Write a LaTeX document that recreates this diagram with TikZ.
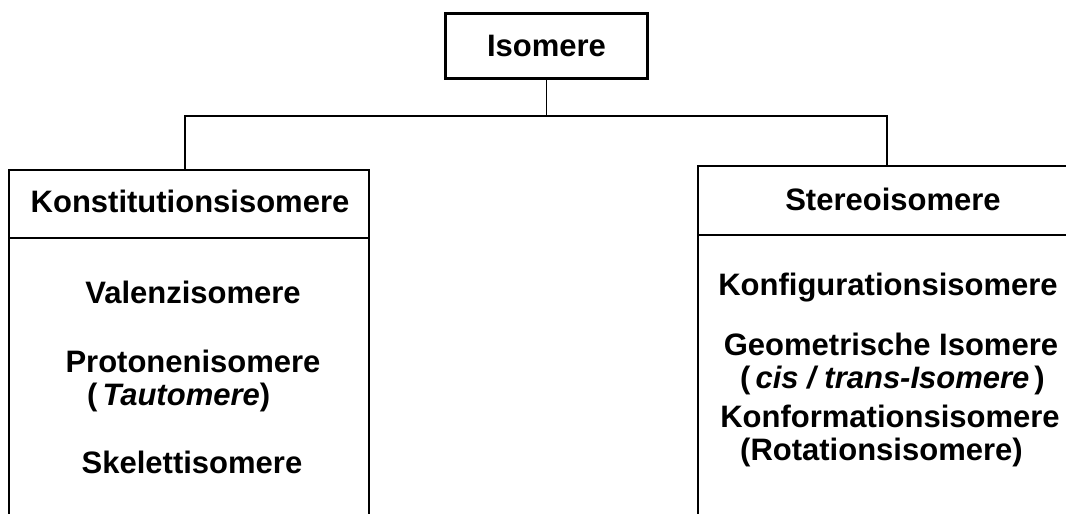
\documentclass[tikz,border=0pt]{standalone}
\usepackage{fontspec}
\setmainfont{Liberation Sans}
\begin{document}
\begin{tikzpicture}[x=1pt,y=-1pt,
  thin line/.style={line width=1.6pt},
  rootbox/.style={draw,line width=3pt,rectangle,inner sep=0pt,
    minimum width=202pt,minimum height=65pt},
  headbox/.style={draw,thin line,rectangle,inner sep=0pt,outer sep=0pt},
  lbl/.style={inner sep=0pt,font=\fontsize{31}{37}\selectfont\bfseries}]
\clip (0,0) rectangle (1066,514);
\fill[white] (0,0) rectangle (1066,514);

% root
\node[rootbox,lbl] (iso) at (546.5,46) {Isomere};

% class headers
\node[headbox,minimum width=360pt,minimum height=68pt] (kh) at (189,204) {};
\node[headbox,minimum width=420pt,minimum height=69pt] (sh) at (908,200.5) {};

% open columns below the headers
\draw[thin line] (kh.south west) -- ++(0,300);
\draw[thin line] (kh.south east) -- ++(0,300);
\draw[thin line] (sh.south west) -- ++(0,300);

% tree connectors
\coordinate (busL) at (185,116);
\coordinate (busR) at (887,116);
\draw[thin line] (iso.south) -- (iso.south |- busL);
\draw[thin line] (busL |- kh.north) -- (busL) -- (busR) -- (busR |- sh.north);

% header texts
\node[lbl,anchor=base] (kt) at (190,212) {Konstitutionsisomere};
\node[lbl,anchor=base] (st) at (893,210) {Stereoisomere};

% constitutional isomers
\node[lbl,anchor=base] (val) at (193,303) {Valenzisomere};
\node[lbl,anchor=base] (pro) at (193,372) {Protonenisomere};
\node[lbl,anchor=base west] (tau) at (87,405) {(\hspace{5pt}\textit{Tautomere})};
\node[lbl,anchor=base] (ske) at (192,473) {Skelettisomere};

% stereoisomers
\node[lbl,anchor=base] (kfg) at (888,295) {Konfigurationsisomere};
\node[lbl,anchor=base] (geo) at (891,355) {Geometrische Isomere};
\node[lbl,anchor=base west] (cis) at (740,388) {(\hspace{5pt}\textit{cis / trans-Isomere}\hspace{5pt})};
\node[lbl,anchor=base] (kfm) at (890,427) {Konformationsisomere};
\node[lbl,anchor=base west] (rot) at (740,460) {(Rotationsisomere)};
\end{tikzpicture}
\end{document}
